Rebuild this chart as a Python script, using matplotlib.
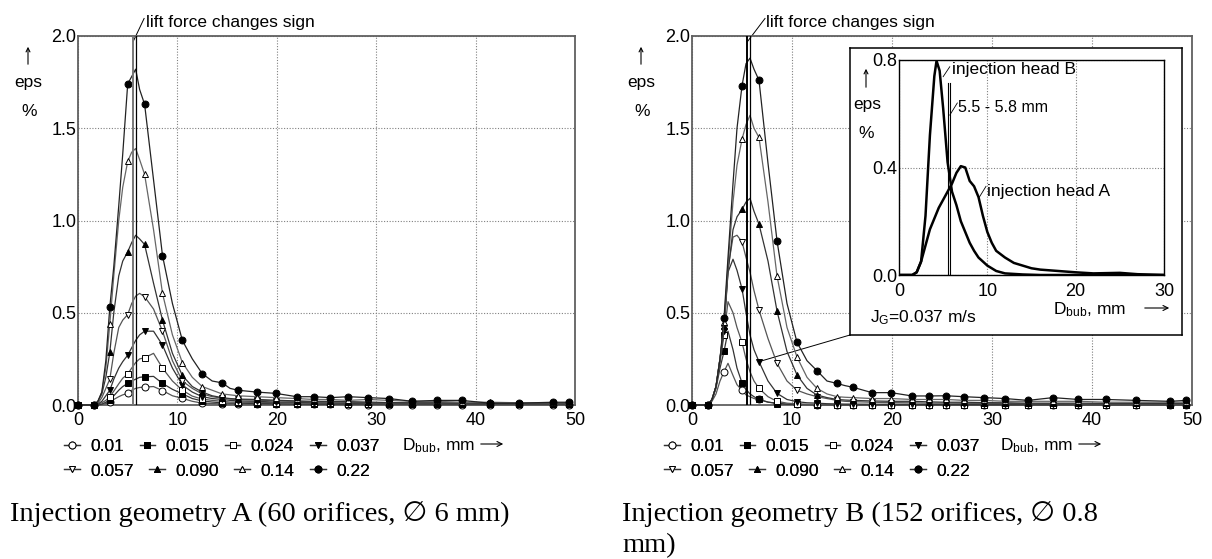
import numpy as np
import matplotlib
matplotlib.use("Agg")
import matplotlib.pyplot as plt
from matplotlib.lines import Line2D
from matplotlib.patches import ConnectionPatch, FancyArrowPatch

plt.rcParams["font.family"] = ["Liberation Sans", "DejaVu Sans"]
plt.rcParams["mathtext.fontset"] = "custom"
plt.rcParams["mathtext.rm"] = "Liberation Sans"
plt.rcParams["mathtext.default"] = "regular"

# bubble diameter grid, mm (markers only on MARK_X)
D_BUB = [0, 0.8, 1.6, 2.0, 2.4, 2.8, 3.2, 3.6, 4.1, 4.5, 5.0, 5.4, 5.8, 6.2, 6.7, 7.6,
         8.5, 9.5, 10.5, 11.5, 12.5, 13.5, 14.5, 15.3, 16.1, 18.0, 19.9, 22.0, 23.7,
         25.4, 27.2, 29.2, 31.3, 33.6, 36.1, 38.6, 41.4, 44.4, 47.8, 49.4]
MARK_X = [0, 1.6, 3.2, 5.0, 6.7, 8.5, 10.5, 12.5, 14.5, 16.1, 18.0, 19.9, 22.0, 23.7,
          25.4, 27.2, 29.2, 31.3, 33.6, 36.1, 38.6, 41.4, 44.4, 47.8, 49.4]

J_LABELS = ["0.01", "0.015", "0.024", "0.037", "0.057", "0.090", "0.14", "0.22"]

# injection geometry A, eps in %
A_001 = [0, 0, 0, 0, 0.003, 0.008, 0.016, 0.03, 0.045, 0.055, 0.063, 0.08, 0.09, 0.095, 0.097, 0.1,
         0.078, 0.05, 0.036, 0.02, 0.01, 0.008, 0.006, 0.005, 0.005, 0.004, 0.004, 0.003, 0.003,
         0.003, 0.002, 0.002, 0.002, 0.002, 0.002, 0.002, 0.001, 0.001, 0.001, 0.001]
A_0015 = [0, 0, 0, 0, 0.005, 0.015, 0.027, 0.05, 0.08, 0.1, 0.117, 0.13, 0.14, 0.15, 0.153, 0.155,
          0.117, 0.085, 0.06, 0.035, 0.022, 0.016, 0.012, 0.01, 0.01, 0.008, 0.007, 0.006, 0.005,
          0.005, 0.005, 0.004, 0.004, 0.004, 0.003, 0.003, 0.003, 0.003, 0.003, 0.003]
A_0024 = [0, 0, 0, 0.005, 0.012, 0.025, 0.045, 0.075, 0.115, 0.145, 0.168, 0.2, 0.23, 0.25, 0.256, 0.28,
          0.2, 0.13, 0.08, 0.048, 0.032, 0.025, 0.02, 0.016, 0.015, 0.014, 0.012, 0.01, 0.01,
          0.009, 0.008, 0.007, 0.006, 0.006, 0.006, 0.005, 0.005, 0.005, 0.005, 0.005]
A_0037 = [0, 0, 0, 0.005, 0.02, 0.05, 0.08, 0.14, 0.2, 0.235, 0.27, 0.31, 0.35, 0.38, 0.4, 0.4,
          0.325, 0.2, 0.108, 0.07, 0.045, 0.035, 0.03, 0.025, 0.022, 0.02, 0.016, 0.015, 0.012,
          0.012, 0.01, 0.01, 0.01, 0.008, 0.008, 0.007, 0.006, 0.006, 0.006, 0.006]
A_0057 = [0, 0, 0, 0.01, 0.04, 0.09, 0.14, 0.28, 0.42, 0.46, 0.49, 0.55, 0.59, 0.605, 0.587, 0.52,
          0.4, 0.24, 0.13, 0.09, 0.06, 0.045, 0.037, 0.032, 0.03, 0.026, 0.022, 0.02, 0.017,
          0.016, 0.015, 0.012, 0.011, 0.01, 0.01, 0.01, 0.008, 0.007, 0.007, 0.007]
A_0090 = [0, 0, 0, 0.02, 0.06, 0.15, 0.285, 0.5, 0.7, 0.78, 0.83, 0.88, 0.92, 0.9, 0.87, 0.66,
          0.46, 0.28, 0.16, 0.1, 0.07, 0.05, 0.04, 0.035, 0.032, 0.03, 0.026, 0.022, 0.02,
          0.02, 0.018, 0.016, 0.013, 0.012, 0.012, 0.011, 0.01, 0.008, 0.008, 0.008]
A_014 = [0, 0, 0, 0.02, 0.07, 0.2, 0.44, 0.7, 1.0, 1.18, 1.32, 1.37, 1.39, 1.33, 1.25, 0.95,
         0.605, 0.38, 0.23, 0.15, 0.1, 0.08, 0.06, 0.055, 0.05, 0.045, 0.04, 0.035, 0.03,
         0.03, 0.025, 0.03, 0.025, 0.02, 0.02, 0.015, 0.015, 0.012, 0.012, 0.012]
A_022 = [0, 0, 0, 0.02, 0.07, 0.24, 0.53, 0.75, 1.08, 1.36, 1.74, 1.78, 1.82, 1.71, 1.63, 1.22,
         0.81, 0.55, 0.35, 0.25, 0.17, 0.13, 0.12, 0.09, 0.08, 0.07, 0.063, 0.045, 0.045,
         0.04, 0.045, 0.04, 0.035, 0.02, 0.025, 0.025, 0.01, 0.01, 0.015, 0.015]

# injection geometry B, eps in %
B_001 = [0, 0, 0, 0.02, 0.06, 0.13, 0.18, 0.226, 0.16, 0.11, 0.08, 0.055, 0.045, 0.035, 0.03, 0.015,
         0.01, 0.005, 0.003, 0.002, 0.002, 0.001, 0.001, 0.001, 0.001, 0.001, 0.001, 0.001, 0.001,
         0.001, 0.001, 0.001, 0.001, 0.001, 0.001, 0.001, 0.001, 0.001, 0.001, 0.001]
B_0015 = [0, 0, 0, 0.03, 0.09, 0.2, 0.29, 0.4, 0.3, 0.2, 0.12, 0.085, 0.06, 0.045, 0.03, 0.016,
          0.008, 0.004, 0.003, 0.002, 0.002, 0.002, 0.001, 0.001, 0.001, 0.001, 0.001, 0.001, 0.001,
          0.001, 0.001, 0.001, 0.001, 0.001, 0.001, 0.001, 0.001, 0.001, 0.001, 0.001]
B_0024 = [0, 0, 0, 0.03, 0.1, 0.23, 0.38, 0.56, 0.5, 0.42, 0.34, 0.25, 0.18, 0.13, 0.09, 0.045,
          0.02, 0.01, 0.006, 0.004, 0.003, 0.002, 0.002, 0.002, 0.002, 0.002, 0.002, 0.002, 0.002,
          0.002, 0.002, 0.002, 0.002, 0.002, 0.002, 0.002, 0.002, 0.002, 0.002, 0.002]
B_0037 = [0, 0, 0, 0.03, 0.1, 0.25, 0.4, 0.72, 0.79, 0.73, 0.63, 0.5, 0.38, 0.3, 0.235, 0.13,
          0.063, 0.03, 0.018, 0.012, 0.01, 0.007, 0.006, 0.005, 0.005, 0.004, 0.004, 0.004, 0.003,
          0.003, 0.003, 0.003, 0.003, 0.003, 0.003, 0.003, 0.003, 0.003, 0.003, 0.003]
B_0057 = [0, 0, 0, 0.03, 0.1, 0.25, 0.42, 0.74, 0.91, 0.92, 0.885, 0.8, 0.72, 0.62, 0.515, 0.36,
          0.226, 0.13, 0.08, 0.06, 0.045, 0.035, 0.025, 0.02, 0.018, 0.015, 0.013, 0.012, 0.01,
          0.01, 0.009, 0.008, 0.008, 0.007, 0.007, 0.006, 0.006, 0.006, 0.005, 0.005]
B_0090 = [0, 0, 0, 0.03, 0.1, 0.25, 0.43, 0.72, 0.95, 1.02, 1.06, 1.1, 1.12, 1.05, 0.98, 0.78,
          0.51, 0.29, 0.163, 0.09, 0.054, 0.04, 0.03, 0.027, 0.025, 0.022, 0.02, 0.02, 0.017,
          0.015, 0.015, 0.013, 0.012, 0.01, 0.01, 0.01, 0.009, 0.009, 0.008, 0.008]
B_014 = [0, 0, 0, 0.03, 0.1, 0.25, 0.45, 0.76, 1.1, 1.3, 1.44, 1.52, 1.57, 1.5, 1.45, 1.1,
         0.7, 0.42, 0.26, 0.15, 0.09, 0.06, 0.045, 0.042, 0.04, 0.035, 0.035, 0.03, 0.03,
         0.03, 0.025, 0.025, 0.02, 0.02, 0.02, 0.02, 0.015, 0.015, 0.015, 0.015]
B_022 = [0, 0, 0, 0.03, 0.1, 0.25, 0.47, 0.8, 1.2, 1.5, 1.73, 1.85, 1.88, 1.82, 1.76, 1.31,
         0.89, 0.55, 0.34, 0.24, 0.186, 0.13, 0.117, 0.105, 0.096, 0.067, 0.067, 0.049, 0.049,
         0.05, 0.045, 0.04, 0.035, 0.025, 0.04, 0.03, 0.03, 0.025, 0.02, 0.025]

SERIES_A = [A_001, A_0015, A_0024, A_0037, A_0057, A_0090, A_014, A_022]
SERIES_B = [B_001, B_0015, B_0024, B_0037, B_0057, B_0090, B_014, B_022]

# inset: J_G = 0.037 m/s, both injection heads
INS_X_A = [0, 1.5, 2, 2.5, 3, 3.5, 4, 4.5, 5, 5.5, 6, 6.5, 7, 7.5, 8, 8.5, 9, 9.5, 10, 10.5,
           11, 12, 13, 14, 15, 16, 18, 20, 22, 25, 27, 30]
INS_A = [0, 0, 0.01, 0.05, 0.11, 0.17, 0.21, 0.25, 0.28, 0.31, 0.34, 0.38, 0.405, 0.4, 0.35, 0.33,
         0.29, 0.22, 0.16, 0.12, 0.09, 0.065, 0.045, 0.035, 0.025, 0.02, 0.015, 0.01, 0.006,
         0.008, 0.003, 0]
INS_X_B = [0, 1.5, 2, 2.5, 3, 3.5, 4, 4.25, 4.6, 5, 5.5, 6, 6.5, 7, 7.5, 8, 8.5, 9, 10, 11,
           12, 14, 16, 30]
INS_B = [0, 0, 0.01, 0.05, 0.22, 0.52, 0.74, 0.797, 0.76, 0.62, 0.42, 0.31, 0.26, 0.2, 0.16,
         0.12, 0.09, 0.065, 0.035, 0.015, 0.006, 0.002, 0, 0]

LIFT_SIGN = [5.5, 5.8]

MARKERS = ["o", "s", "s", "v", "v", "^", "^", "o"]
FACES = ["white", "black", "white", "black", "white", "black", "white", "black"]
LINE_COLORS = ["#555555", "#333333", "#555555", "#333333", "#555555", "#333333", "#666666", "#222222"]

W, H = 1212, 559
FS = 12.5


def fx(px):
    return px / W


def fy(py):
    return 1 - py / H


fig = plt.figure(figsize=(W / 100, H / 100), dpi=100)
mark_idx = [i for i, x in enumerate(D_BUB) if x in MARK_X]


def make_main(left_px, right_px):
    ax = fig.add_axes([fx(left_px), fy(405), (right_px - left_px) / W, (405 - 36) / H])
    ax.set_xlim(0, 50)
    ax.set_ylim(0, 2.0)
    ax.set_xticks([0, 10, 20, 30, 40, 50])
    ax.set_yticks([0, 0.5, 1.0, 1.5, 2.0])
    ax.set_yticklabels(["0.0", "0.5", "1.0", "1.5", "2.0"])
    ax.tick_params(length=0, labelsize=13)
    ax.tick_params(axis="x", pad=5)
    ax.tick_params(axis="y", pad=1)
    ax.grid(True, ls=(0, (1, 1.5)), color="#808080", lw=0.8)
    for s in ax.spines.values():
        s.set_color("#606060")
        s.set_linewidth(1.3)
    return ax


def draw_series(ax, series):
    for vals, m, fc, lc in zip(series, MARKERS, FACES, LINE_COLORS):
        ax.plot(D_BUB, vals, color=lc, lw=0.9, marker=m, ms=5, mfc=fc, mec="black",
                mew=0.7, markevery=mark_idx, clip_on=False, zorder=3)


def legend_rows(x_px):
    handles = [Line2D([], [], color="#333333", lw=0.9, marker=m, ms=5, mfc=fc, mec="black", mew=0.7)
               for m, fc in zip(MARKERS, FACES)]
    for row, y_px in enumerate([446, 471]):
        sl = slice(4 * row, 4 * row + 4)
        leg = fig.legend(handles[sl], J_LABELS[sl], loc="center left",
                         bbox_to_anchor=(fx(x_px), fy(y_px)), ncol=4, frameon=False,
                         fontsize=FS, handlelength=0.9, handletextpad=0.6, columnspacing=0.9,
                         borderpad=0, borderaxespad=0)
        fig.add_artist(leg)


def dbub_label(x_px, y_px, arrow_from, arrow_to):
    fig.text(fx(x_px), fy(y_px), r"D$_{\mathregular{bub}}$, mm", fontsize=FS, ha="left", va="center")
    fig.add_artist(FancyArrowPatch(
        (fx(arrow_from), fy(y_px - 2)), (fx(arrow_to), fy(y_px - 2)), transform=fig.transFigure,
        arrowstyle="->", mutation_scale=9, lw=0.8, color="black"))


def eps_label(x_px):
    fig.add_artist(FancyArrowPatch(
        (fx(x_px), fy(67)), (fx(x_px), fy(44)), transform=fig.transFigure,
        arrowstyle="->", mutation_scale=7, lw=0.8, color="black"))
    fig.text(fx(x_px), fy(83), "eps", fontsize=FS, ha="center", va="center")
    fig.text(fx(x_px + 1), fy(112), "%", fontsize=FS, ha="center", va="center")


def lift_lines(ax, colors, text_x, text_from):
    for x, c, lw in zip(LIFT_SIGN, colors, [1.4, 0.9]):
        ax.axvline(x, color=c, lw=lw, zorder=4)
    ax.plot([LIFT_SIGN[0] + 0.05, text_from], [1.97, 2.095], color="black", lw=0.7, clip_on=False)
    ax.text(text_x, 2.075, "lift force changes sign", fontsize=FS, ha="left", va="center")


# ---- geometry A ----
axA = make_main(78, 575)
draw_series(axA, SERIES_A)
lift_lines(axA, ["#777777", "black"], 6.85, 6.65)
eps_label(28)
legend_rows(64)
dbub_label(402, 446, 478, 506)

# ---- geometry B ----
axB = make_main(692, 1192)
draw_series(axB, SERIES_B)
lift_lines(axB, ["black", "black"], 7.45, 7.3)
eps_label(641)
legend_rows(664)
dbub_label(1000, 446, 1076, 1104)

# inset frame
box = fig.add_axes([fx(850), fy(335), 332 / W, 287 / H])
box.set_xticks([])
box.set_yticks([])
box.set_facecolor("white")
for s in box.spines.values():
    s.set_color("black")
    s.set_linewidth(1.1)

ins = fig.add_axes([fx(899), fy(275), 265 / W, 215 / H])
ins.plot(INS_X_A, INS_A, color="black", lw=1.8)
ins.plot(INS_X_B, INS_B, color="black", lw=1.8)
ins.set_xlim(0, 30)
ins.set_ylim(0, 0.8)
ins.set_xticks([0, 10, 20, 30])
ins.set_yticks([0, 0.4, 0.8])
ins.set_yticklabels(["0.0", "0.4", "0.8"])
ins.tick_params(length=0, labelsize=13)
ins.tick_params(axis="x", pad=6)
ins.tick_params(axis="y", pad=1)
ins.grid(True, ls=(0, (1, 1.5)), color="#808080", lw=0.8)
for s in ins.spines.values():
    s.set_color("black")
    s.set_linewidth(1.0)
for x in LIFT_SIGN:
    ins.plot([x, x], [0, 0.715], color="black", lw=0.8)
ins.plot([5.0, 5.75], [0.738, 0.775], color="black", lw=0.6)
ins.text(5.95, 0.763, "injection head B", fontsize=FS, ha="left", va="center")
ins.plot([5.75, 6.6], [0.595, 0.64], color="black", lw=0.6)
ins.text(6.7, 0.624, "5.5 - 5.8 mm", fontsize=FS - 1, ha="left", va="center")
ins.plot([9.1, 9.85], [0.29, 0.33], color="black", lw=0.6)
ins.text(10.0, 0.31, "injection head A", fontsize=FS, ha="left", va="center")

fig.add_artist(FancyArrowPatch(
    (fx(866), fy(90)), (fx(866), fy(66)), transform=fig.transFigure,
    arrowstyle="->", mutation_scale=7, lw=0.8, color="black"))
fig.text(fx(867), fy(105), "eps", fontsize=FS, ha="center", va="center")
fig.text(fx(866), fy(133), "%", fontsize=FS, ha="center", va="center")
fig.text(fx(870), fy(318), r"J$_{\mathregular{G}}$=0.037 m/s", fontsize=FS, ha="left", va="center")
dbub_label(1053, 310, 1142, 1172)

# leader from the J_G = 0.037 curve to the inset
con = ConnectionPatch(xyA=(6.7, B_0037[D_BUB.index(6.7)]), coordsA=axB.transData,
                      xyB=(0, 0), coordsB=box.transAxes, color="black", lw=0.7)
axB.add_artist(con)

# captions
serif = ["Liberation Serif", "DejaVu Serif", "DejaVu Sans"]
CAP = 20.5
fig.text(fx(10), fy(514), "Injection geometry A (60 orifices, \u2205 6 mm)", family=serif,
         fontsize=CAP, ha="left", va="center")
fig.text(fx(622), fy(514), "Injection geometry B (152 orifices, \u2205 0.8", family=serif,
         fontsize=CAP, ha="left", va="center")
fig.text(fx(622), fy(546), "mm)", family=serif, fontsize=CAP, ha="left", va="center")

fig.savefig("out.png", dpi=100, facecolor="white")
